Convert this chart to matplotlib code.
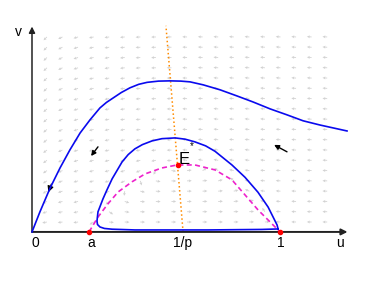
import numpy as np
import matplotlib
matplotlib.use("Agg")
import matplotlib.pyplot as plt

plt.rcParams['font.family'] = ['Liberation Sans', 'DejaVu Sans']

# parametros del modelo
a = 0.23
inv_p = 0.609
k = 1.8
s = 0.17
tilt = 0.083

# trayectoria exterior (u, v)
outer_u = [0.0, 0.032, 0.073, 0.113, 0.153, 0.194, 0.234, 0.274, 0.300, 0.327, 0.360,
           0.395, 0.430, 0.464, 0.510, 0.556, 0.600, 0.637, 0.690, 0.758, 0.827, 0.891,
           0.960, 1.028, 1.093, 1.161, 1.270]
outer_v = [0.0, 0.081, 0.177, 0.258, 0.331, 0.399, 0.452, 0.500, 0.522, 0.540, 0.562,
           0.581, 0.595, 0.603, 0.608, 0.609, 0.608, 0.605, 0.593, 0.573, 0.548, 0.524,
           0.496, 0.472, 0.448, 0.431, 0.407]

# trayectoria interior
inner_u = [0.992, 0.988, 0.972, 0.952, 0.911, 0.859, 0.806, 0.738, 0.700, 0.657, 0.617,
           0.577, 0.524, 0.484, 0.445, 0.415, 0.388, 0.363, 0.323, 0.302, 0.286, 0.266,
           0.262, 0.264, 0.274, 0.292, 0.323, 0.415, 0.710, 0.927, 0.992]
inner_v = [0.012, 0.028, 0.060, 0.100, 0.160, 0.220, 0.270, 0.325, 0.347, 0.363, 0.374,
           0.379, 0.376, 0.367, 0.352, 0.335, 0.312, 0.282, 0.214, 0.169, 0.133, 0.081,
           0.044, 0.030, 0.020, 0.014, 0.011, 0.008, 0.008, 0.010, 0.012]

# nulclina de la presa
null_u = [0.230, 0.266, 0.306, 0.347, 0.403, 0.456, 0.524, 0.585, 0.657, 0.738, 0.806,
          0.859, 0.911, 0.952, 0.988, 1.0]
null_v = [0.0, 0.060, 0.113, 0.161, 0.202, 0.234, 0.258, 0.270, 0.270, 0.250, 0.210,
          0.149, 0.089, 0.048, 0.012, 0.0]

# nulclina del depredador
pred_u = [0.609, 0.540]
pred_v = [0.0, 0.831]

# equilibrios
eq_u = [a, 1.0, 0.587]
eq_v = [0.0, 0.0, 0.270]

tick_pos = [0.012, 0.238, 0.605, 1.004]
tick_lab = ['0', 'a', '1/p', '1']

fig = plt.figure(figsize=(3.82, 2.87), dpi=100)
ax = fig.add_axes([0, 0, 1, 1])
ax.set_xlim(-0.129, 1.411)
ax.set_ylim(-0.222, 0.935)
ax.axis('off')

# campo de direcciones
U, V = np.meshgrid(np.linspace(0.060, 1.190, 19), np.linspace(0.040, 0.786, 19))
dU = U * (k * (1 - U) * (U - a) - V)
dV = s * V * (U - inv_p + tilt * V)
norm = np.sqrt(dU**2 + dV**2)
L = 0.019
ax.quiver(U, V, L * dU / norm, L * dV / norm, angles='xy', scale_units='xy', scale=1,
          color='#d2d2d2', width=0.0022, headwidth=3.5, headlength=3.5, headaxislength=3,
          zorder=1)

# ejes
ax.annotate('', xy=(1.272, 0), xytext=(0, 0),
            arrowprops=dict(arrowstyle='-|>', color='#222222', lw=1.4, mutation_scale=9,
                            shrinkA=0, shrinkB=0))
ax.annotate('', xy=(0, 0.828), xytext=(0, 0),
            arrowprops=dict(arrowstyle='-|>', color='#222222', lw=1.1, mutation_scale=9,
                            shrinkA=0, shrinkB=0))

ax.plot(pred_u, pred_v, color='#ff8c00', linestyle=':', lw=1.1, zorder=2)
ax.plot(null_u, null_v, color='#ee22cc', linestyle=(0, (3, 2)), lw=1.2, zorder=3)
ax.plot(outer_u, outer_v, color='#0a0aee', lw=1.2, zorder=4)
ax.plot(inner_u, inner_v, color='#0a0aee', lw=1.2, zorder=4)
ax.plot(eq_u, eq_v, 'o', color='red', markersize=3, zorder=5)

# flechas
ax.annotate('', xy=(0.066, 0.160), xytext=(0.078, 0.193),
            arrowprops=dict(arrowstyle='-|>', color='k', lw=0.8, mutation_scale=9,
                            shrinkA=0, shrinkB=0))
ax.annotate('', xy=(0.238, 0.306), xytext=(0.266, 0.343),
            arrowprops=dict(arrowstyle='-|>', color='k', lw=1.0, mutation_scale=7,
                            shrinkA=0, shrinkB=0))
ax.annotate('', xy=(0.976, 0.351), xytext=(1.028, 0.323),
            arrowprops=dict(arrowstyle='-|>', color='k', lw=1.0, mutation_scale=7,
                            shrinkA=0, shrinkB=0))

for x, t in zip(tick_pos, tick_lab):
    ax.text(x, -0.044, t, ha='center', va='center', fontsize=10)
ax.text(1.242, -0.044, 'u', ha='center', va='center', fontsize=10)
ax.text(-0.056, 0.806, 'v', ha='center', va='center', fontsize=10)
ax.text(0.590, 0.272, 'E', ha='left', va='baseline', fontsize=12)
ax.text(0.645, 0.345, '*', ha='center', va='center', fontsize=7)

fig.savefig('out.png', dpi=100)
